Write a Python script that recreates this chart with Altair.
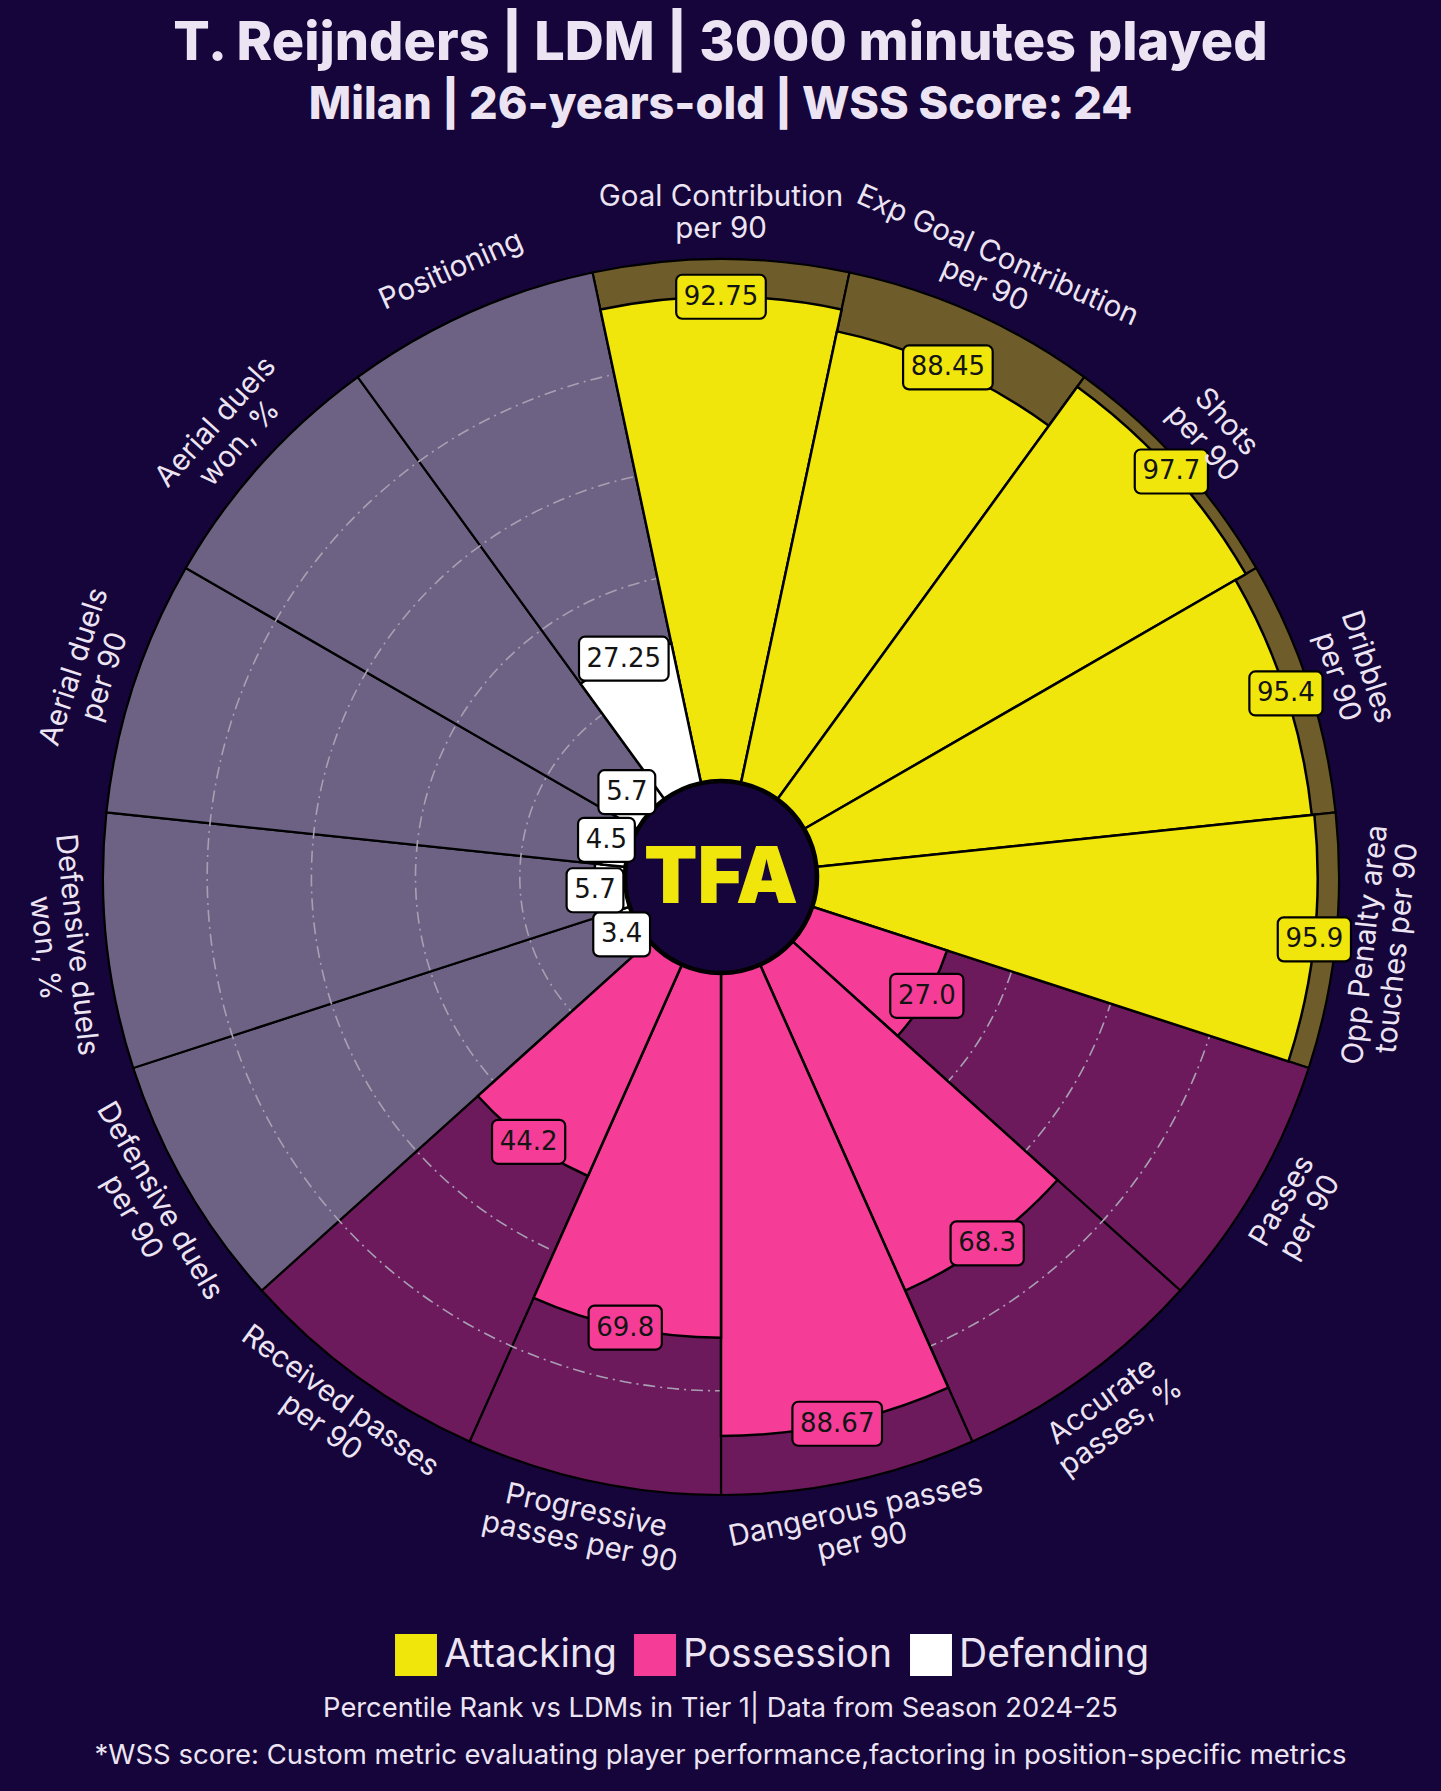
import math
import altair as alt
import pandas as pd

# ---------------- data ----------------
TITLE = "T. Reijnders | LDM | 3000 minutes played"
SUBTITLE = "Milan | 26-years-old | WSS Score: 24"
FOOTER_1 = "Percentile Rank vs LDMs in Tier 1| Data from Season 2024-25"
FOOTER_2 = "*WSS score: Custom metric evaluating player performance,factoring in position-specific metrics"
LOGO = "TFA"

metrics = [
    "Goal Contribution\nper 90",
    "Exp Goal Contribution\nper 90",
    "Shots\nper 90",
    "Dribbles\nper 90",
    "Opp Penalty area\ntouches per 90",
    "Passes\nper 90",
    "Accurate\npasses, %",
    "Dangerous passes\nper 90",
    "Progressive\npasses per 90",
    "Received passes\nper 90",
    "Defensive duels\nper 90",
    "Defensive duels\nwon, %",
    "Aerial duels\nper 90",
    "Aerial duels\nwon, %",
    "Positioning",
]
values = [92.75, 88.45, 97.7, 95.4, 95.9, 27.0, 68.3, 88.67, 69.8, 44.2, 3.4, 5.7, 4.5, 5.7, 27.25]
groups = ["Attacking"] * 5 + ["Possession"] * 5 + ["Defending"] * 5
group_names = ["Attacking", "Possession", "Defending"]
group_colors = ["#f0e60c", "#f53d98", "#ffffff"]
group_bg = ["#6f5c2b", "#6d1a5d", "#6d6284"]
grid_levels = [20, 40, 60, 80]

# ---------------- layout ----------------
BG = "#15053a"
TXT = "#ede4f3"
W, H = 1441, 1791
CX, CY = 721, 877
R_IN, R_OUT = 97, 618
R_LAB = 664
LINE_H = 32
STEP = 360 / len(metrics)

df = pd.DataFrame({"metric": metrics, "value": values, "group": groups})
df["idx"] = list(range(len(metrics)))
df["label"] = [str(v) for v in values]
df["bg"] = df["group"].map(dict(zip(group_names, group_bg)))

theta_scale = alt.Scale(domain=[0, 360], range=[0, 2 * math.pi], nice=False, zero=False)
radius_scale = alt.Scale(type="linear", domain=[0, 100], range=[R_IN, R_OUT], nice=False, zero=False)
x_scale = alt.Scale(domain=[-CX, W - CX], nice=False, zero=False)
y_scale = alt.Scale(domain=[CY - H, CY], nice=False, zero=False)
color_scale = alt.Scale(domain=group_names, range=group_colors)
legend = alt.Legend(
    orient="none", legendX=395, legendY=1634, direction="horizontal", title=None,
    symbolType="square", symbolSize=1760, symbolStrokeWidth=0, symbolOpacity=1,
    labelFontSize=39, labelFont="Inter", labelColor=TXT, labelLimit=400,
    columnPadding=17, labelOffset=7, padding=0,
)

base = alt.Chart(df).transform_calculate(
    start=f"datum.idx*{STEP} - {STEP / 2}",
    end=f"datum.idx*{STEP} + {STEP / 2}",
    mid=f"datum.idx*{STEP}",
    full="100",
    zero="0",
)

pos = dict(x=alt.value(CX), y=alt.value(CY))

bg_arcs = base.mark_arc(stroke="black", strokeWidth=2.2).encode(
    theta=alt.Theta("start:Q", scale=theta_scale),
    theta2="end:Q",
    radius=alt.Radius("full:Q", scale=radius_scale, stack=None),
    radius2="zero:Q",
    fill=alt.Fill("bg:N", scale=None),
    **pos,
)

grid = alt.Chart(pd.DataFrame({"level": grid_levels})).mark_arc(
    filled=False, stroke="#a8a0b2", strokeWidth=1.6, strokeDash=[12, 5, 2, 5]
).encode(
    theta=alt.value(0),
    theta2=alt.value(2 * math.pi),
    radius=alt.Radius("level:Q", scale=radius_scale, stack=None),
    **pos,
)

bars = base.mark_arc(stroke="black", strokeWidth=2.5).encode(
    theta=alt.Theta("start:Q", scale=theta_scale),
    theta2="end:Q",
    radius=alt.Radius("value:Q", scale=radius_scale, stack=None),
    radius2="zero:Q",
    color=alt.Color("group:N", scale=color_scale, legend=legend),
    **pos,
)

logo_df = pd.DataFrame({"logo": [LOGO]})
center = alt.Chart(logo_df).mark_arc(fill=BG, stroke="black", strokeWidth=2.5).encode(
    theta=alt.value(0), theta2=alt.value(2 * math.pi), radius=alt.value(95), **pos
)
logo = alt.Chart(logo_df).mark_text(
    font="Inter", fontWeight=900, fontSize=78, color="#f0e60c", align="center", baseline="middle"
).encode(text="logo:N", x=alt.value(CX), y=alt.value(CY + 3))

labels = base.transform_calculate(
    rr=f"{R_IN} + {(R_OUT - R_IN) / 100}*datum.value",
    lx="datum.rr*sin(datum.mid*PI/180)",
    ly="datum.rr*cos(datum.mid*PI/180)",
    bw="16.4*(length(datum.label)-1) + 24",
    bx1="datum.lx - datum.bw/2",
    bx2="datum.lx + datum.bw/2",
    by1="datum.ly - 22",
    by2="datum.ly + 22",
)
boxes = labels.mark_rect(cornerRadius=6, stroke="black", strokeWidth=2.2).encode(
    x=alt.X("bx1:Q", scale=x_scale, axis=None),
    x2="bx2:Q",
    y=alt.Y("by1:Q", scale=y_scale, axis=None),
    y2="by2:Q",
    color=alt.Color("group:N", scale=color_scale, legend=legend),
)
value_text = labels.mark_text(
    font="DejaVu Sans", fontSize=26, color="#141414", align="center", baseline="middle"
).encode(
    x=alt.X("lx:Q", scale=x_scale, axis=None),
    y=alt.Y("ly:Q", scale=y_scale, axis=None),
    text="label:N",
)

cat = base.transform_calculate(
    rot="((datum.mid > 90 && datum.mid < 270) ? datum.mid + 180 : datum.mid) % 360",
    nl="indexof(datum.metric, '\\n') >= 0 ? 2 : 1",
    sh=f"(datum.nl - 1) * {LINE_H} / 2",
    cx=f"{R_LAB}*sin(datum.mid*PI/180) + datum.sh*sin(datum.rot*PI/180)",
    cy=f"{R_LAB}*cos(datum.mid*PI/180) + datum.sh*cos(datum.rot*PI/180)",
)
cat_text = cat.mark_text(
    font="Inter", fontSize=29.5, color=TXT, align="center", baseline="middle", lineBreak="\n", lineHeight=LINE_H
).encode(
    x=alt.X("cx:Q", scale=x_scale, axis=None),
    y=alt.Y("cy:Q", scale=y_scale, axis=None),
    text="metric:N",
    angle=alt.Angle("rot:Q", scale=None),
)


def line(text, y, size, weight="normal"):
    return alt.Chart(pd.DataFrame({"t": [text]})).mark_text(
        font="Inter", fontSize=size, fontWeight=weight, color=TXT, align="center", baseline="middle"
    ).encode(text="t:N", x=alt.value(W / 2), y=alt.value(y))


chart = alt.layer(
    bg_arcs, grid, bars, center, logo, boxes, value_text, cat_text,
    line(TITLE, 44, 54, 800),
    line(SUBTITLE, 105, 45, 800),
    line(FOOTER_1, 1709, 27.3),
    line(FOOTER_2, 1756, 27.5),
).properties(
    width=W, height=H, padding=0, autosize=alt.AutoSizeParams(type="none")
).configure(background=BG).configure_view(stroke="transparent")

chart.save("out.html", embed_options={"renderer": "svg", "actions": False})
